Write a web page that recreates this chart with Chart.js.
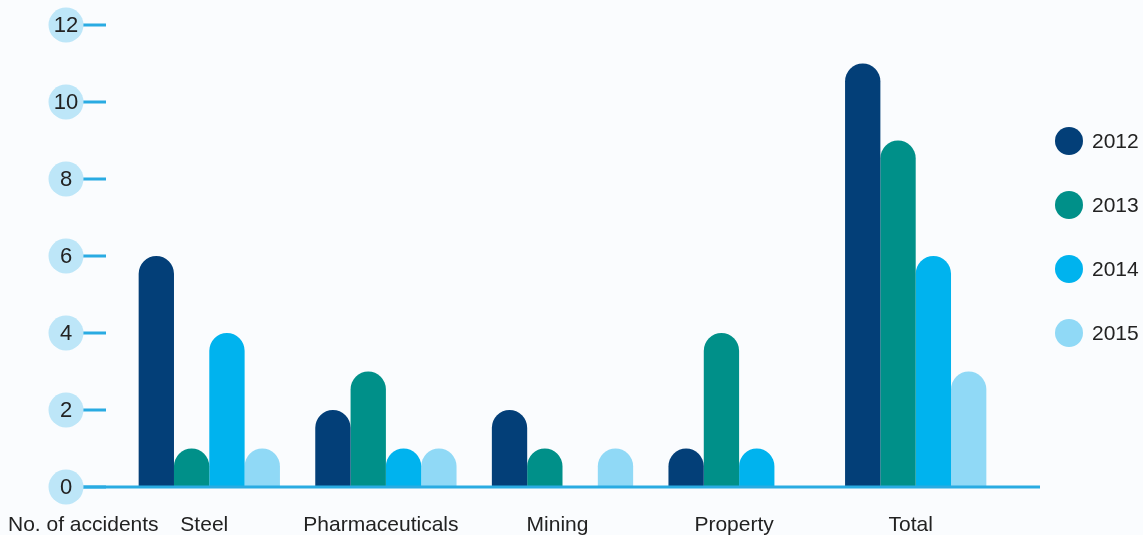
<!DOCTYPE html>
<html>
<head>
<meta charset="utf-8">
<script src="https://cdn.jsdelivr.net/npm/chart.js@4"></script>
<style>
  html, body { margin: 0; padding: 0; background: #fafcfe; }
  #wrap { width: 1143px; height: 535px; position: relative; }
</style>
</head>
<body>
<div id="wrap"><canvas id="c" width="1143" height="535"></canvas></div>
<script>
// Accidents by sector and year
const categories = ['Steel', 'Pharmaceuticals', 'Mining', 'Property', 'Total'];
const years = ['2012', '2013', '2014', '2015'];
const values2012 = [6, 2, 2, 1, 11];
const values2013 = [1, 3, 1, 4, 9];
const values2014 = [4, 1, 0, 1, 6];
const values2015 = [1, 1, 1, 0, 3];
const yTicks = [0, 2, 4, 6, 8, 10, 12];
const axisTitle = 'No. of accidents';

const colors = ['#033f78', '#009089', '#00b3ee', '#90d9f6'];
const FONT = '"Liberation Sans", Arial, sans-serif';

const series = [values2012, values2013, values2014, values2015];

// Y ticks as bubbles with short blue dashes, plus the baseline
const axisDecor = {
  id: 'axisDecor',
  afterDatasetsDraw(chart) {
    const { ctx, scales: { y }, chartArea } = chart;
    const cx = 66, r = 17.5;
    ctx.save();
    ctx.strokeStyle = '#29abe2';
    ctx.lineWidth = 3;
    const base = y.getPixelForValue(0);
    ctx.beginPath();
    ctx.moveTo(cx + r - 1, base);
    ctx.lineTo(chartArea.right + 36, base);
    ctx.stroke();
    yTicks.forEach(v => {
      const py = y.getPixelForValue(v);
      ctx.beginPath();
      ctx.moveTo(cx + r - 1, py);
      ctx.lineTo(106, py);
      ctx.stroke();
      ctx.fillStyle = '#bde6f8';
      ctx.beginPath();
      ctx.arc(cx, py, r, 0, Math.PI * 2);
      ctx.fill();
      ctx.fillStyle = '#222';
      ctx.font = '22px ' + FONT;
      ctx.textAlign = 'center';
      ctx.textBaseline = 'middle';
      ctx.fillText(String(v), cx, py + 1);
    });
    ctx.restore();
  }
};

// Category labels under the groups, the axis title, and a round-dot legend
const labelsAndLegend = {
  id: 'labelsAndLegend',
  afterDraw(chart) {
    const { ctx, scales: { x } } = chart;
    ctx.save();
    ctx.fillStyle = '#222';
    ctx.font = '21px ' + FONT;
    ctx.textBaseline = 'middle';
    ctx.textAlign = 'center';
    categories.forEach((c, i) => {
      ctx.fillText(c, x.getPixelForValue(i) - 5, 525);
    });
    ctx.textAlign = 'left';
    ctx.fillText(axisTitle, 8, 525);

    chart.data.datasets.forEach((ds, i) => {
      const ly = 141 + i * 64;
      ctx.fillStyle = ds.backgroundColor;
      ctx.beginPath();
      ctx.arc(1069, ly, 14, 0, Math.PI * 2);
      ctx.fill();
      ctx.fillStyle = '#222';
      ctx.font = '21px ' + FONT;
      ctx.textBaseline = 'middle';
      ctx.fillText(ds.label, 1092, ly + 1);
    });
    ctx.restore();
  }
};

new Chart(document.getElementById('c'), {
  type: 'bar',
  data: {
    labels: categories,
    datasets: years.map((yr, i) => ({
      label: yr,
      data: series[i],
      backgroundColor: colors[i],
      borderWidth: 0,
      borderRadius: { topLeft: 40, topRight: 40, bottomLeft: 0, bottomRight: 0 },
      borderSkipped: 'start',
      categoryPercentage: 0.8,
      barPercentage: 1.0
    }))
  },
  options: {
    responsive: false,
    animation: false,
    layout: { padding: { left: 121, right: 139, top: 25, bottom: 48 } },
    plugins: { legend: { display: false }, tooltip: { enabled: false } },
    scales: {
      x: { display: false },
      y: { display: false, min: 0, max: 12 }
    }
  },
  plugins: [axisDecor, labelsAndLegend]
});
</script>
</body>
</html>
